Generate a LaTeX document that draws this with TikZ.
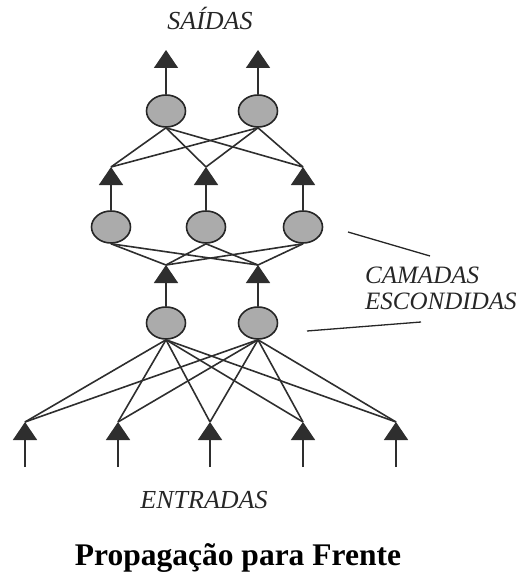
\documentclass[tikz,border=0pt]{standalone}
\usepackage{fontspec}
\setmainfont{Liberation Serif}
\usetikzlibrary{arrows.meta, shapes.geometric}

\tikzset{
  neuron/.style={ellipse, draw=black!85, line width=1.6pt, fill=black!33,
    minimum width=39pt, minimum height=32pt, inner sep=0pt},
  link/.style={draw=black!82, line width=1.6pt},
  signal/.style={link, -{Triangle[width=24pt, length=18pt]}},
  label/.style={font=\fontsize{25}{28}\selectfont\itshape, text=black!85, inner sep=0pt}
}

\begin{document}
\begin{tikzpicture}[x=1pt, y=-1pt]
			\useasboundingbox (0,0) rectangle (518,572);

			% neurons
			\node[neuron] (h1) at (166,323) {};
			\node[neuron] (h2) at (258,323) {};
			\node[neuron] (g1) at (111,227) {};
			\node[neuron] (g2) at (206,227) {};
			\node[neuron] (g3) at (303,227) {};
			\node[neuron] (o1) at (166,111) {};
			\node[neuron] (o2) at (258,111) {};

			% arrow tips
			\coordinate (i1) at (25,422);
			\coordinate (i2) at (118,422);
			\coordinate (i3) at (210,422);
			\coordinate (i4) at (303,422);
			\coordinate (i5) at (396,422);
			\coordinate (ta) at (166,265);
			\coordinate (tb) at (258,265);
			\coordinate (ua) at (111,167);
			\coordinate (ub) at (206,167);
			\coordinate (uc) at (303,167);
			\coordinate (sa) at (166,50);
			\coordinate (sb) at (258,50);

			% inputs
			\draw[signal] (25,467) -- (i1);
			\draw[signal] (118,467) -- (i2);
			\draw[signal] (210,467) -- (i3);
			\draw[signal] (303,467) -- (i4);
			\draw[signal] (396,467) -- (i5);

			\path[link]
			  (h1.south) edge (i1) (h1.south) edge (i2) (h1.south) edge (i3)
			  (h1.south) edge (i4) (h1.south) edge (i5)
			  (h2.south) edge (i1) (h2.south) edge (i2) (h2.south) edge (i3)
			  (h2.south) edge (i4) (h2.south) edge (i5);

			\draw[signal] (h1.north) -- (ta);
			\draw[signal] (h2.north) -- (tb);

			\path[link]
			  (g1.south) edge (ta) (g1.south) edge (tb)
			  (g2.south) edge (ta) (g2.south) edge (tb)
			  (g3.south) edge (ta) (g3.south) edge (tb);

			\draw[signal] (g1.north) -- (ua);
			\draw[signal] (g2.north) -- (ub);
			\draw[signal] (g3.north) -- (uc);

			\path[link]
			  (o1.south) edge (ua) (o1.south) edge (ub) (o1.south) edge (uc)
			  (o2.south) edge (ua) (o2.south) edge (ub) (o2.south) edge (uc);

			\draw[signal] (o1.north) -- (sa);
			\draw[signal] (o2.north) -- (sb);

			% labels
			\node[label, anchor=base, font=\fontsize{26}{28}\selectfont\itshape] (saidas) at (210,30) {SAÍDAS};
			\node[label, anchor=base, font=\fontsize{26}{28}\selectfont\itshape] (entradas) at (204,508) {ENTRADAS};
			\node[label, anchor=base west] (camadas) at (365,283) {CAMADAS};
			\node[label, anchor=base west] (escondidas) at (365,309) {ESCONDIDAS};
			\coordinate (p1) at (348,232);
			\coordinate (p2) at (430,256);
			\coordinate (q1) at (307,331);
			\coordinate (q2) at (421,322);
			\draw[line width=1.3pt, black!85] (p1) -- (p2);
			\draw[line width=1.3pt, black!85] (q1) -- (q2);

			\node[anchor=base, inner sep=0pt] (titulo) at (238,565)
			  {\fontsize{31.5}{36}\selectfont\bfseries Propagação para Frente};
		  \end{tikzpicture}
\end{document}
